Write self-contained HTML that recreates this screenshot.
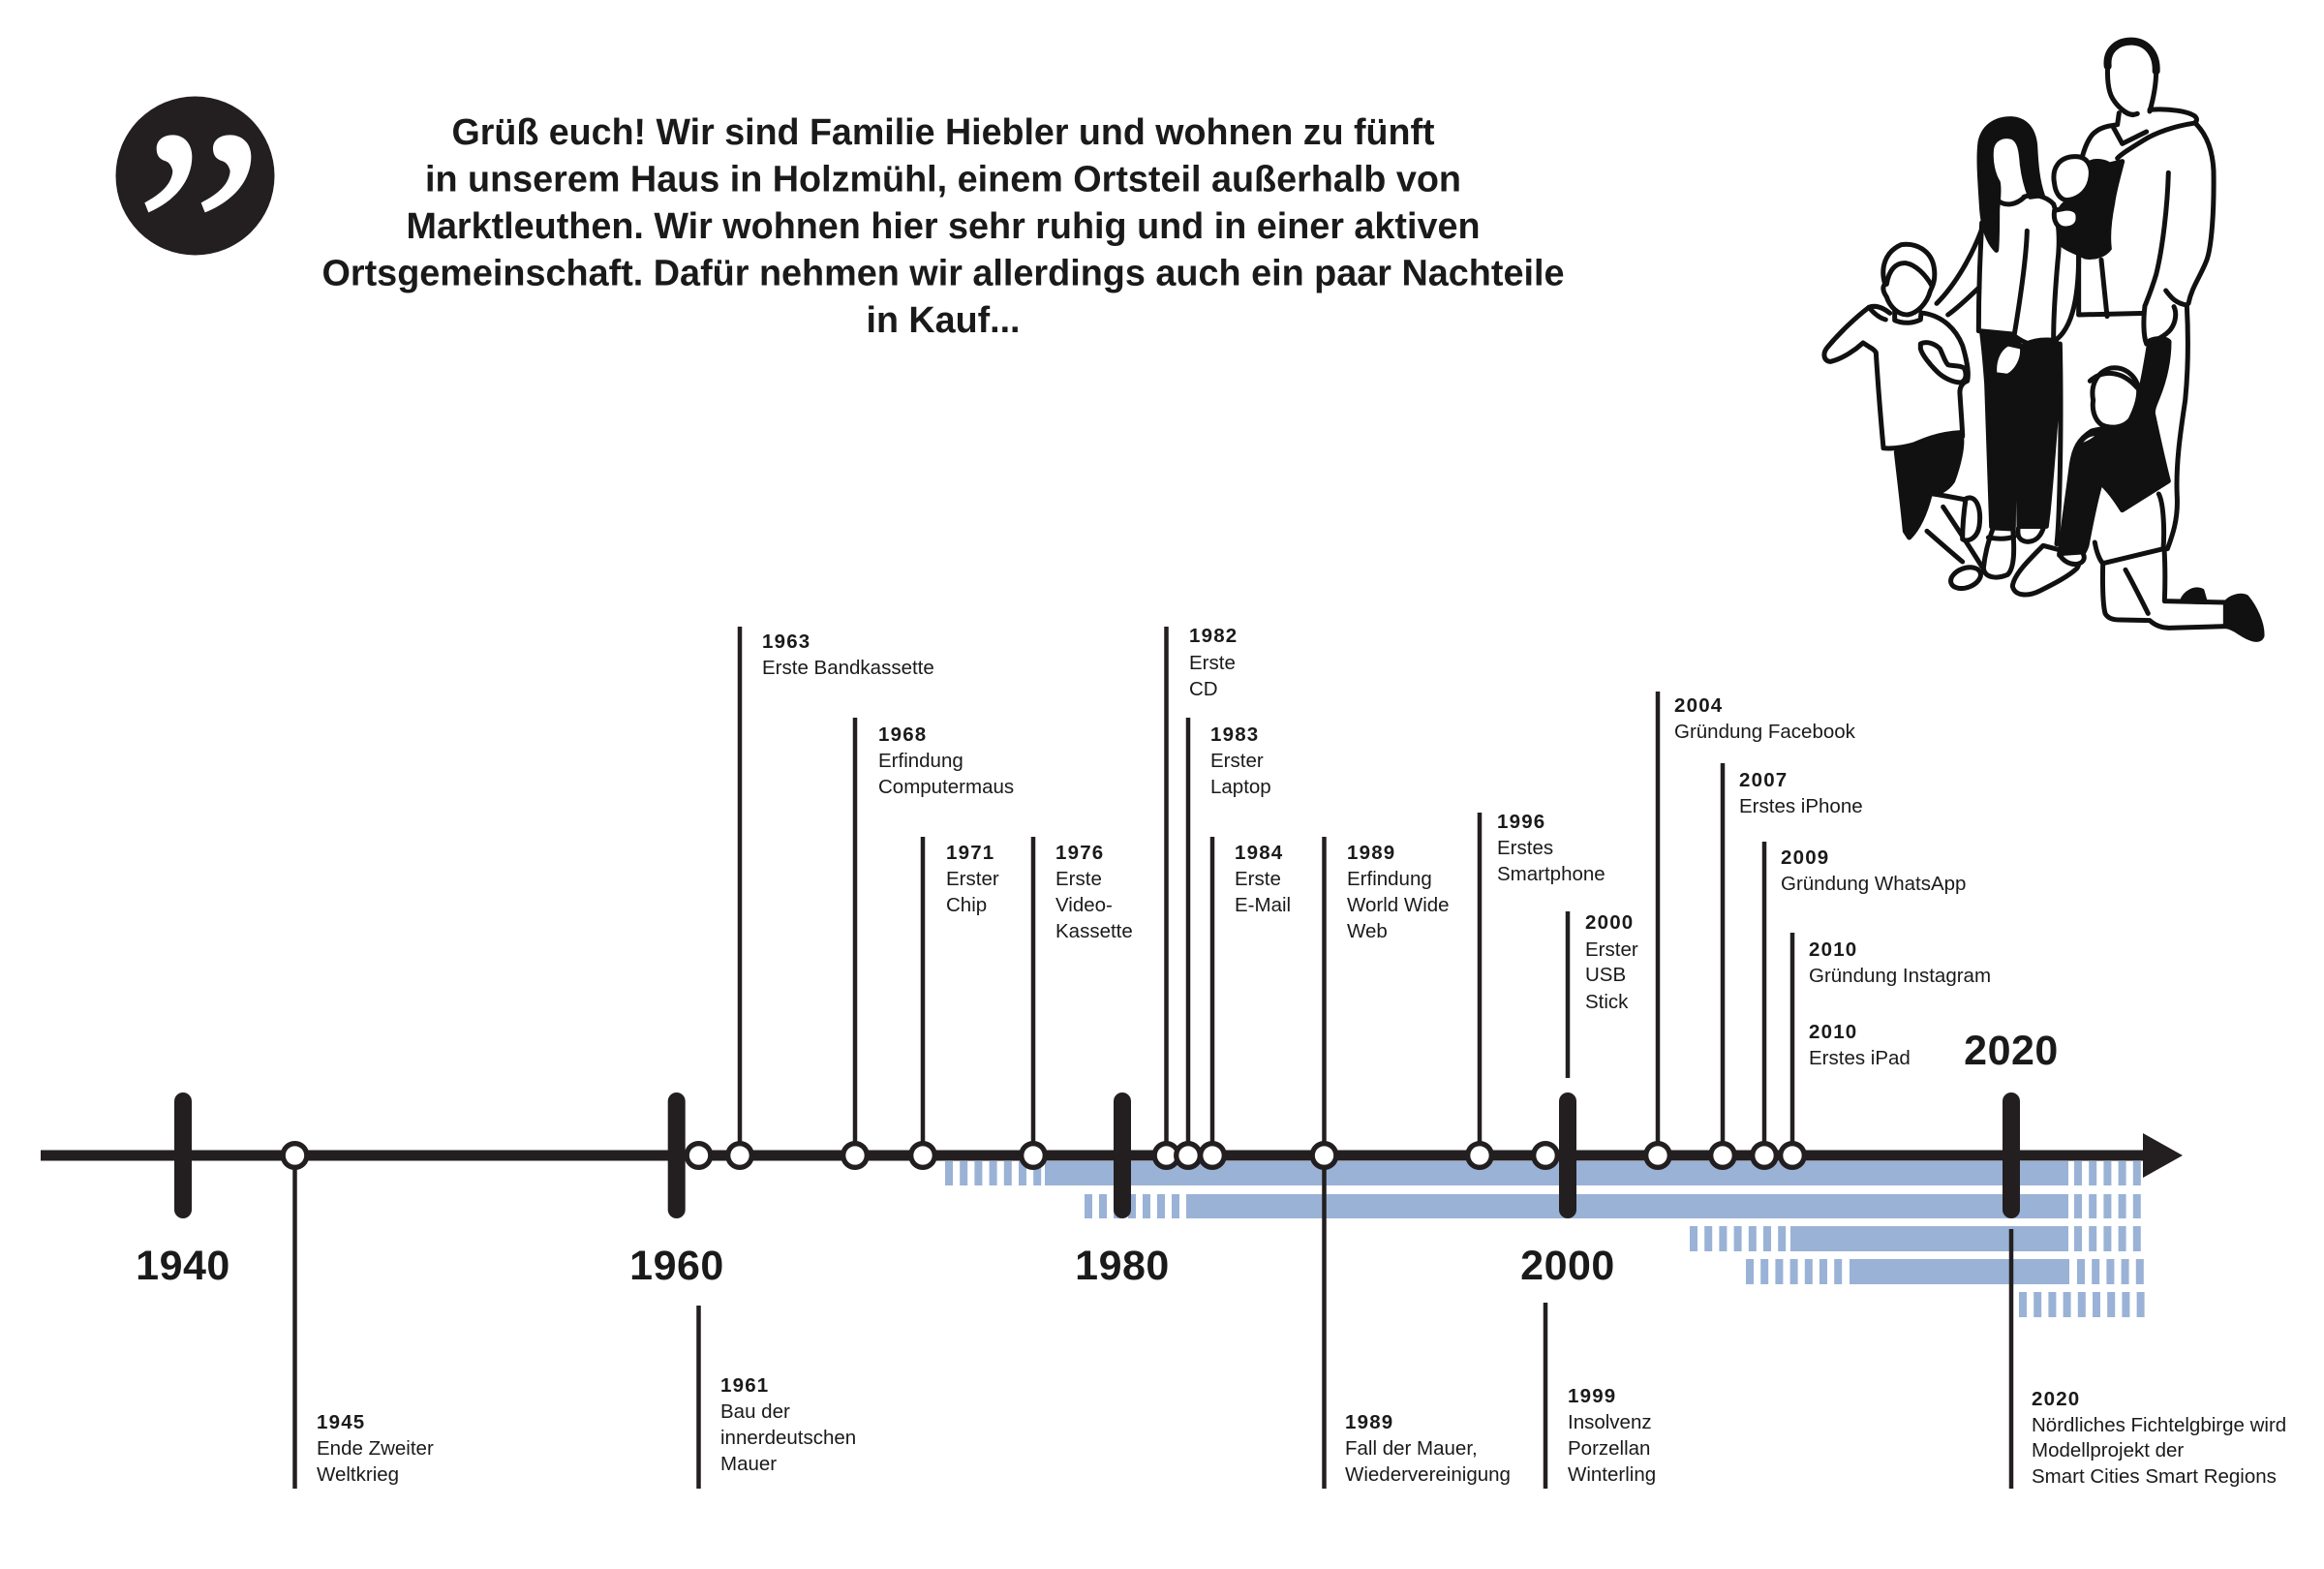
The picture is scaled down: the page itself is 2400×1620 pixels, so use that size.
<!DOCTYPE html>
<html><head><meta charset="utf-8">
<style>
html,body{margin:0;padding:0;background:#fff;}
svg{display:block;}
text{font-family:"Liberation Sans",Arial,sans-serif;fill:#1a1a1a;}
.y{font-weight:bold;font-size:20.5px;letter-spacing:1.2px;}
.t{font-size:20.5px;}
.d{font-weight:bold;font-size:43px;letter-spacing:0.5px;}
.h{font-weight:bold;font-size:37.7px;}
</style></head><body>
<svg width="2400" height="1620" viewBox="0 0 2400 1620" xmlns="http://www.w3.org/2000/svg">
<rect width="2400" height="1620" fill="#fff"/>

<!-- Quote icon -->
<circle cx="201.5" cy="181.5" r="82" fill="#231f20"/>
<g transform="translate(100,80) scale(0.3333)" fill="#fff">
  <path d="M185,220 C185,195 205,178 235,178 C270,178 295,205 295,245 C295,320 240,385 160,418 L148,388 C200,360 232,330 235,290 C232,275 225,262 210,258 C192,252 185,238 185,220 Z"/>
  <path d="M360,220 C360,195 380,178 412,178 C452,178 478,205 478,245 C478,320 420,385 335,418 L323,388 C378,360 410,330 413,290 C410,275 402,262 386,258 C368,252 360,238 360,220 Z"/>
</g>

<!-- Heading -->
<text class="h" x="974" y="149" text-anchor="middle" textLength="1015" lengthAdjust="spacingAndGlyphs">Grüß euch! Wir sind Familie Hiebler und wohnen zu fünft</text>
<text class="h" x="974" y="197.5" text-anchor="middle" textLength="1070" lengthAdjust="spacingAndGlyphs">in unserem Haus in Holzmühl, einem Ortsteil außerhalb von</text>
<text class="h" x="974" y="246" text-anchor="middle" textLength="1109" lengthAdjust="spacingAndGlyphs">Marktleuthen. Wir wohnen hier sehr ruhig und in einer aktiven</text>
<text class="h" x="974" y="294.5" text-anchor="middle" textLength="1283" lengthAdjust="spacingAndGlyphs">Ortsgemeinschaft. Dafür nehmen wir allerdings auch ein paar Nachteile</text>
<text class="h" x="974" y="343" text-anchor="middle" textLength="159" lengthAdjust="spacingAndGlyphs">in Kauf...</text>

<!-- Family illustration (coords in 3x zoom space, origin 1880,30) -->
<g transform="translate(1880,30) scale(0.33333)" fill="none" stroke="#111" stroke-width="15" stroke-linecap="round" stroke-linejoin="round">
  <!-- man -->
  <path stroke-width="24" d="M890,115 C885,65 920,38 962,38 C1010,38 1042,75 1040,130"/>
  <path d="M890,100 C888,150 890,190 905,215 C920,240 945,262 968,266"/>
  <path d="M935,250 C950,265 965,268 982,262"/>
  <path d="M1040,130 C1040,170 1030,220 1020,255"/>
  <path d="M925,260 L920,296 C890,300 860,305 840,330 C825,350 815,380 810,400"/>
  <path d="M905,300 L935,355 L1010,318"/>
  <path d="M1020,250 C1080,245 1140,255 1160,270 C1170,280 1165,290 1155,292 C1100,300 1040,320 1000,345 C960,370 935,385 920,400"/>
  <path d="M1160,290 C1200,330 1215,380 1218,440 C1220,560 1212,680 1195,720 C1175,770 1150,800 1140,850"/>
  <path d="M1078,445 C1075,550 1060,680 1040,760 C1025,810 1012,840 1005,858"/>
  <path d="M1070,810 C1085,830 1100,850 1135,855"/>
  <path d="M800,885 L1008,880"/>
  <path d="M800,690 L800,885 M870,715 L888,890"/>
  <path fill="#fff" d="M1005,858 C1000,900 1000,950 1010,975 C1030,970 1070,950 1085,930 C1100,910 1105,880 1095,860"/>
  <path d="M1135,855 C1140,950 1140,1050 1130,1150 C1115,1250 1100,1350 1105,1450 C1108,1520 1090,1570 1075,1610"/>
  <path d="M742,975 C745,1100 745,1300 740,1450 C738,1520 735,1570 732,1595"/>
  <!-- man shoe -->
  <path fill="#fff" d="M690,1600 C640,1650 600,1690 595,1725 C600,1755 640,1760 680,1740 C720,1720 770,1695 795,1670 C805,1655 800,1640 785,1625 Z"/>
  <!-- mother pants -->
  <path fill="#111" d="M500,940 L595,948 C600,960 610,975 625,985 L640,975 C660,965 690,960 730,965 C740,1000 735,1100 730,1200 C722,1300 715,1400 705,1500 L700,1540 L615,1542 L612,1340 L600,1340 L598,1542 L530,1542 C525,1400 520,1250 515,1100 C510,1030 505,980 500,940 Z"/>
  <path fill="#fff" d="M540,1070 C535,1030 550,990 580,975 L625,985 C630,1020 610,1060 580,1075 Z"/>
  <!-- mother feet -->
  <path fill="#fff" d="M535,1545 C522,1580 510,1620 505,1670 C508,1700 545,1705 580,1690 C600,1670 602,1620 596,1548 Z"/>
  <path fill="#fff" d="M612,1548 C610,1570 615,1585 640,1588 C665,1588 680,1575 690,1548"/>
  <path d="M520,1575 C550,1580 580,1580 600,1572"/>
  <!-- mother hair -->
  <path fill="#111" d="M545,685 C520,660 505,620 500,560 C495,480 488,400 495,350 C505,300 545,278 590,278 C635,280 660,310 665,360 C668,420 672,470 688,515 L650,520 C638,490 630,460 625,420 C622,380 618,345 595,335 C565,325 535,340 530,370 C525,410 535,450 550,475 C555,500 550,530 548,560 C548,610 548,650 545,685 Z"/>
  <path d="M555,535 C575,548 605,545 630,522"/>
  <path d="M630,520 C660,508 700,518 722,542 C740,590 742,660 735,720 C728,800 722,880 722,960"/>
  <path d="M640,625 C638,700 625,800 600,950 C620,965 640,975 655,975"/>
  <path d="M800,700 C800,770 795,830 780,880 C765,930 740,960 722,965"/>
  <path d="M500,600 C495,700 490,800 490,935 L595,945"/>
  <path d="M500,620 C470,700 420,790 360,850 M492,800 C460,830 430,860 395,885"/>
  <!-- baby -->
  <path fill="#111" d="M835,415 C850,405 880,410 895,420 L935,410 C925,450 910,500 905,540 C895,590 890,640 895,680 C880,700 850,710 820,705 C790,690 760,680 745,665 L745,610 L790,610 C800,590 800,570 795,560 L745,555 C760,530 800,520 830,500 C845,480 850,450 835,415 Z"/>
  <path fill="#fff" d="M725,480 C715,430 740,395 790,395 C830,395 845,430 835,470 C825,510 790,530 760,530 C740,525 728,505 725,480 Z"/>
  <path fill="#fff" d="M725,562 C720,592 732,620 762,618 C790,616 800,600 798,580 C798,565 785,555 760,555 Z"/>
  <!-- left boy -->
  <path fill="#fff" d="M200,790 C185,740 200,690 250,668 C300,660 345,690 352,740 C358,780 345,800 340,812 C330,850 300,880 270,885 C240,885 215,860 205,830 C195,815 190,800 200,790 Z"/>
  <path d="M205,790 C212,745 235,722 265,725 C295,730 325,760 345,795"/>
  <path d="M230,872 L230,902 C260,915 290,910 310,900 L312,878"/>
  <path d="M215,880 C190,860 168,855 150,862 C110,892 60,940 22,985 C5,1005 10,1030 32,1030 C72,1020 110,992 132,972 L152,985"/>
  <path d="M150,862 C165,880 182,895 202,900"/>
  <path d="M152,985 C162,990 168,995 172,1002 C178,1100 186,1200 195,1298"/>
  <path d="M320,880 C380,890 420,930 440,980 C455,1030 460,1070 455,1090 C440,1095 430,1110 432,1130 C435,1180 440,1240 440,1262"/>
  <path d="M195,1298 C260,1305 330,1270 440,1255"/>
  <path fill="#fff" d="M310,975 C330,965 355,975 370,990 C380,1010 385,1030 395,1040 C410,1045 430,1040 445,1050 C455,1070 450,1090 435,1095 C410,1095 380,1080 360,1060 C340,1040 315,1010 310,990 Z"/>
  <path fill="#111" d="M235,1310 C290,1290 340,1255 435,1250 C445,1290 425,1360 410,1400 C390,1430 360,1440 340,1440 C330,1480 310,1540 275,1575 L262,1555 C255,1480 245,1400 235,1310 Z"/>
  <path d="M330,1555 C370,1590 410,1625 440,1650 M380,1480 C420,1540 460,1600 500,1665"/>
  <path d="M315,1435 C360,1440 410,1450 450,1458"/>
  <path fill="#fff" d="M450,1455 C480,1440 500,1480 492,1540 C485,1580 455,1590 440,1580 C440,1540 445,1490 450,1455 Z"/>
  <ellipse cx="450" cy="1700" rx="48" ry="30" transform="rotate(-20 450 1700)" fill="#fff"/>
  <!-- kneeling boy -->
  <path fill="#111" d="M1020,965 C1045,955 1070,958 1080,968 C1080,1030 1065,1090 1045,1140 C1035,1165 1030,1175 1030,1190 C1045,1260 1060,1330 1078,1400 L935,1490 C910,1450 885,1420 868,1405 C855,1450 840,1520 825,1600 C815,1630 800,1640 790,1640 L740,1630 C750,1560 765,1450 778,1350 C785,1300 800,1270 840,1245 C880,1235 930,1235 960,1215 C990,1150 1005,1060 1020,965 Z"/>
  <path fill="#fff" d="M800,1292 C810,1262 840,1247 868,1255 C850,1272 825,1287 800,1292 Z"/>
  <path fill="#fff" d="M845,1150 C835,1100 860,1060 900,1050 C940,1045 975,1070 985,1110 C990,1140 975,1180 960,1210 C940,1235 900,1240 870,1225 C850,1210 840,1180 845,1150 Z"/>
  <path d="M835,1090 C870,1058 930,1052 982,1112"/>
  <path fill="#fff" d="M740,1625 C750,1650 780,1662 800,1656 C818,1650 822,1635 810,1620 Z"/>
  <path d="M850,1590 C855,1620 865,1645 875,1655 L1062,1610 C1066,1560 1064,1470 1048,1440"/>
  <path d="M875,1655 C874,1700 874,1780 882,1810 C890,1825 905,1830 930,1830 L1020,1832 C1040,1850 1060,1855 1080,1855 L1258,1850"/>
  <path d="M945,1675 C970,1720 1000,1780 1015,1810"/>
  <path d="M1065,1610 C1068,1660 1068,1720 1066,1772 L1258,1776"/>
  <path fill="#111" d="M1255,1778 C1270,1760 1300,1750 1320,1760 C1345,1790 1370,1840 1368,1880 C1360,1900 1330,1890 1300,1870 C1280,1855 1262,1850 1255,1850 Z"/>
  <path fill="#111" d="M1120,1772 C1130,1745 1160,1730 1182,1740 L1192,1775 Z"/>
</g>

<!-- Blue bars -->
<g fill="#9ab2d6">
  <rect x="976" y="1199" width="8" height="25"/><rect x="991.2" y="1199" width="8" height="25"/><rect x="1006.4" y="1199" width="8" height="25"/><rect x="1021.6" y="1199" width="8" height="25"/><rect x="1036.8" y="1199" width="8" height="25"/><rect x="1052" y="1199" width="8" height="25"/><rect x="1067.2" y="1199" width="8" height="25"/>
  <rect x="1079" y="1199" width="1057" height="25"/>
  <rect x="2142" y="1199" width="8" height="25"/><rect x="2157.2" y="1199" width="8" height="25"/><rect x="2172.4" y="1199" width="8" height="25"/><rect x="2187.6" y="1199" width="8" height="25"/><rect x="2202.8" y="1199" width="8" height="25"/>
  <rect x="1120" y="1233" width="8" height="25"/><rect x="1135" y="1233" width="8" height="25"/><rect x="1150" y="1233" width="8" height="25"/><rect x="1165" y="1233" width="8" height="25"/><rect x="1180" y="1233" width="8" height="25"/><rect x="1195" y="1233" width="8" height="25"/><rect x="1210" y="1233" width="8" height="25"/>
  <rect x="1225" y="1233" width="911" height="25"/>
  <rect x="2142" y="1233" width="8" height="25"/><rect x="2157.2" y="1233" width="8" height="25"/><rect x="2172.4" y="1233" width="8" height="25"/><rect x="2187.6" y="1233" width="8" height="25"/><rect x="2202.8" y="1233" width="8" height="25"/>
  <rect x="1745" y="1266" width="8" height="26"/><rect x="1760.2" y="1266" width="8" height="26"/><rect x="1775.4" y="1266" width="8" height="26"/><rect x="1790.6" y="1266" width="8" height="26"/><rect x="1805.8" y="1266" width="8" height="26"/><rect x="1821" y="1266" width="8" height="26"/><rect x="1836.2" y="1266" width="8" height="26"/>
  <rect x="1849" y="1266" width="287" height="26"/>
  <rect x="2142" y="1266" width="8" height="26"/><rect x="2157.2" y="1266" width="8" height="26"/><rect x="2172.4" y="1266" width="8" height="26"/><rect x="2187.6" y="1266" width="8" height="26"/><rect x="2202.8" y="1266" width="8" height="26"/>
  <rect x="1803" y="1300" width="8" height="26"/><rect x="1818.2" y="1300" width="8" height="26"/><rect x="1833.4" y="1300" width="8" height="26"/><rect x="1848.6" y="1300" width="8" height="26"/><rect x="1863.8" y="1300" width="8" height="26"/><rect x="1879" y="1300" width="8" height="26"/><rect x="1894.2" y="1300" width="8" height="26"/>
  <rect x="1910" y="1300" width="227" height="26"/>
  <rect x="2145" y="1300" width="8" height="26"/><rect x="2160.2" y="1300" width="8" height="26"/><rect x="2175.4" y="1300" width="8" height="26"/><rect x="2190.6" y="1300" width="8" height="26"/><rect x="2205.8" y="1300" width="8" height="26"/>
  <rect x="2085" y="1334" width="8" height="26"/><rect x="2100.2" y="1334" width="8" height="26"/><rect x="2115.4" y="1334" width="8" height="26"/><rect x="2130.6" y="1334" width="8" height="26"/><rect x="2145.8" y="1334" width="8" height="26"/><rect x="2161" y="1334" width="8" height="26"/><rect x="2176.2" y="1334" width="8" height="26"/><rect x="2191.4" y="1334" width="8" height="26"/><rect x="2206.6" y="1334" width="8" height="26"/>
</g>

<!-- Main line and arrow -->
<rect x="42" y="1187.5" width="2176" height="11" fill="#231f20"/>
<polygon points="2213,1170 2254,1193 2213,1216" fill="#231f20"/>

<!-- Vertical connector lines -->
<g stroke="#231f20" stroke-width="4.5" fill="none">
  <line x1="764" y1="647" x2="764" y2="1193"/>
  <line x1="883" y1="741" x2="883" y2="1193"/>
  <line x1="953" y1="864" x2="953" y2="1193"/>
  <line x1="1067" y1="864" x2="1067" y2="1193"/>
  <line x1="1204.5" y1="647" x2="1204.5" y2="1193"/>
  <line x1="1227" y1="741" x2="1227" y2="1193"/>
  <line x1="1252" y1="864" x2="1252" y2="1193"/>
  <line x1="1367.5" y1="864" x2="1367.5" y2="1537"/>
  <line x1="1528" y1="839" x2="1528" y2="1193"/>
  <line x1="1619" y1="941" x2="1619" y2="1113"/>
  <line x1="1712" y1="714" x2="1712" y2="1193"/>
  <line x1="1779" y1="788" x2="1779" y2="1193"/>
  <line x1="1822" y1="869" x2="1822" y2="1193"/>
  <line x1="1851" y1="963" x2="1851" y2="1193"/>
  <line x1="304.5" y1="1193" x2="304.5" y2="1537"/>
  <line x1="721.5" y1="1348" x2="721.5" y2="1537"/>
  <line x1="1596" y1="1345" x2="1596" y2="1537"/>
  <line x1="2077" y1="1269" x2="2077" y2="1537"/>
</g>

<!-- Decade ticks -->
<g stroke="#231f20" stroke-width="18" stroke-linecap="round">
  <line x1="189" y1="1137" x2="189" y2="1249"/>
  <line x1="698.7" y1="1137" x2="698.7" y2="1249"/>
  <line x1="1159" y1="1137" x2="1159" y2="1249"/>
  <line x1="1619" y1="1137" x2="1619" y2="1249"/>
  <line x1="2077" y1="1137" x2="2077" y2="1249"/>
</g>

<!-- Event circles -->
<g fill="#fff" stroke="#231f20" stroke-width="5.3">
  <circle cx="304.5" cy="1193" r="12.3"/>
  <circle cx="721.5" cy="1193" r="12.3"/>
  <circle cx="764" cy="1193" r="12.3"/>
  <circle cx="883" cy="1193" r="12.3"/>
  <circle cx="953" cy="1193" r="12.3"/>
  <circle cx="1067" cy="1193" r="12.3"/>
  <circle cx="1204.5" cy="1193" r="12.3"/>
  <circle cx="1227" cy="1193" r="12.3"/>
  <circle cx="1252" cy="1193" r="12.3"/>
  <circle cx="1367.5" cy="1193" r="12.3"/>
  <circle cx="1528" cy="1193" r="12.3"/>
  <circle cx="1596" cy="1193" r="12.3"/>
  <circle cx="1712" cy="1193" r="12.3"/>
  <circle cx="1779" cy="1193" r="12.3"/>
  <circle cx="1822" cy="1193" r="12.3"/>
  <circle cx="1851" cy="1193" r="12.3"/>
</g>

<!-- Decade labels -->
<text class="d" x="189" y="1321" text-anchor="middle">1940</text>
<text class="d" x="699" y="1321" text-anchor="middle">1960</text>
<text class="d" x="1159" y="1321" text-anchor="middle">1980</text>
<text class="d" x="1619" y="1321" text-anchor="middle">2000</text>
<text class="d" x="2077" y="1099" text-anchor="middle">2020</text>

<!-- Top labels -->
<text class="y" x="787" y="669">1963</text>
<text class="t" x="787" y="696">Erste Bandkassette</text>

<text class="y" x="907" y="765">1968</text>
<text class="t" x="907" y="792">Erfindung</text>
<text class="t" x="907" y="819">Computermaus</text>

<text class="y" x="977" y="887">1971</text>
<text class="t" x="977" y="914">Erster</text>
<text class="t" x="977" y="941">Chip</text>

<text class="y" x="1090" y="887">1976</text>
<text class="t" x="1090" y="914">Erste</text>
<text class="t" x="1090" y="941">Video-</text>
<text class="t" x="1090" y="968">Kassette</text>

<text class="y" x="1228" y="663">1982</text>
<text class="t" x="1228" y="691">Erste</text>
<text class="t" x="1228" y="718">CD</text>

<text class="y" x="1250" y="765">1983</text>
<text class="t" x="1250" y="792">Erster</text>
<text class="t" x="1250" y="819">Laptop</text>

<text class="y" x="1275" y="887">1984</text>
<text class="t" x="1275" y="914">Erste</text>
<text class="t" x="1275" y="941">E-Mail</text>

<text class="y" x="1391" y="887">1989</text>
<text class="t" x="1391" y="914">Erfindung</text>
<text class="t" x="1391" y="941">World Wide</text>
<text class="t" x="1391" y="968">Web</text>

<text class="y" x="1546" y="855">1996</text>
<text class="t" x="1546" y="882">Erstes</text>
<text class="t" x="1546" y="909">Smartphone</text>

<text class="y" x="1637" y="959">2000</text>
<text class="t" x="1637" y="987">Erster</text>
<text class="t" x="1637" y="1013">USB</text>
<text class="t" x="1637" y="1041">Stick</text>

<text class="y" x="1729" y="735">2004</text>
<text class="t" x="1729" y="762">Gründung Facebook</text>

<text class="y" x="1796" y="812">2007</text>
<text class="t" x="1796" y="839">Erstes iPhone</text>

<text class="y" x="1839" y="892">2009</text>
<text class="t" x="1839" y="919">Gründung WhatsApp</text>

<text class="y" x="1868" y="987">2010</text>
<text class="t" x="1868" y="1014">Gründung Instagram</text>

<text class="y" x="1868" y="1072">2010</text>
<text class="t" x="1868" y="1099">Erstes iPad</text>

<!-- Bottom labels -->
<text class="y" x="327" y="1475">1945</text>
<text class="t" x="327" y="1502">Ende Zweiter</text>
<text class="t" x="327" y="1529">Weltkrieg</text>

<text class="y" x="744" y="1437">1961</text>
<text class="t" x="744" y="1464">Bau der</text>
<text class="t" x="744" y="1491">innerdeutschen</text>
<text class="t" x="744" y="1518">Mauer</text>

<text class="y" x="1389" y="1475">1989</text>
<text class="t" x="1389" y="1502">Fall der Mauer,</text>
<text class="t" x="1389" y="1529">Wiedervereinigung</text>

<text class="y" x="1619" y="1448">1999</text>
<text class="t" x="1619" y="1475">Insolvenz</text>
<text class="t" x="1619" y="1502">Porzellan</text>
<text class="t" x="1619" y="1529">Winterling</text>

<text class="y" x="2098" y="1451">2020</text>
<text class="t" x="2098" y="1478">Nördliches Fichtelgbirge wird</text>
<text class="t" x="2098" y="1504">Modellprojekt der</text>
<text class="t" x="2098" y="1531">Smart Cities Smart Regions</text>
</svg>
</body></html>
